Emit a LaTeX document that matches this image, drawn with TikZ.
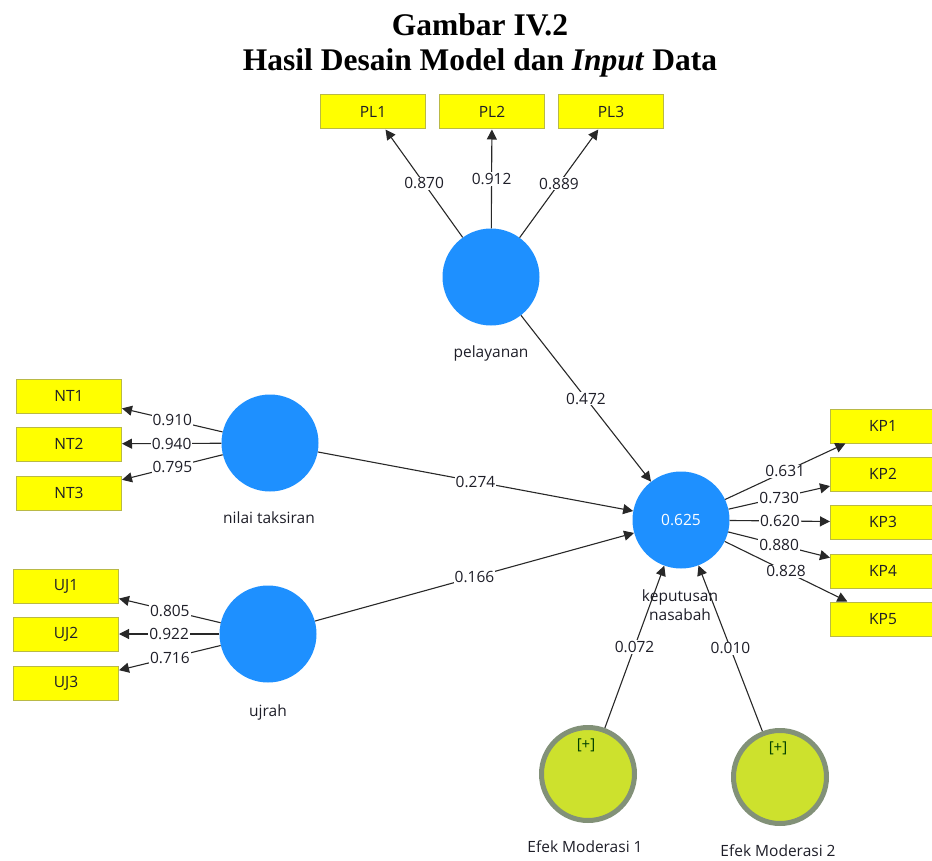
\documentclass[tikz,border=0pt]{standalone}
\usepackage{fontspec}
\setmainfont{Liberation Serif}
\newfontfamily\uifont{Open Sans}
\usetikzlibrary{arrows.meta}
\definecolor{lvblue}{RGB}{30,144,255}
\definecolor{mvyellow}{RGB}{255,255,0}
\definecolor{mvborder}{RGB}{185,185,70}
\definecolor{modfill}{RGB}{205,225,45}
\definecolor{modring}{RGB}{130,145,120}
\definecolor{edgecol}{RGB}{40,40,40}
\definecolor{txt}{RGB}{30,30,40}
\begin{document}
\begin{tikzpicture}[x=1pt,y=-1pt,
 every node/.style={font=\uifont\fontsize{15.5}{18.5}\selectfont},
 lv/.style={circle,fill=lvblue,minimum size=97pt,inner sep=0pt},
 mv/.style={rectangle,fill=mvyellow,draw=mvborder,line width=1pt,minimum width=105pt,minimum height=34pt,inner sep=0pt,text=txt},
 mod/.style={circle,fill=modfill,draw=modring,line width=5pt,minimum size=93pt,inner sep=0pt},
 link/.style={draw=edgecol,line width=1.1pt,-{Triangle[length=10pt,width=10pt]}},
 coef/.style={fill=white,inner sep=1pt,text=txt,pos=0.5},
 lbl/.style={text=txt,align=center},
 plus/.style={text=black!75!green,font=\uifont\fontsize{15}{17}\selectfont},
 title/.style={font=\fontsize{31.5}{36}\selectfont\bfseries,anchor=base}
]
\useasboundingbox (0,0) rectangle (932,861);
% titles
\node[title] (t1) at (480,36) {Gambar IV.2};
\node[title] (t2) at (480,71) {Hasil Desain Model dan \textit{Input} Data};
% latent variables
\node[lv] (PL) at (491,277) {};
\node[lv] (NT) at (270,443) {};
\node[lv] (UJ) at (268,634) {};
\node[lv,text=white] (KP) at (681,520) {0.625};
\node[mod] (M1) at (588,774) {};
\node[mod] (M2) at (780,777) {};
\node[plus] (M1p) at (586,745) {[+]};
\node[plus] (M2p) at (778,748) {[+]};
% labels
\node[lbl] (PLl) at (491,353) {pelayanan};
\node[lbl] (NTl) at (269,518) {nilai taksiran};
\node[lbl] (UJl) at (268,712) {ujrah};
\node[lbl] (KPl) at (680,605) {keputusan\\nasabah};
\node[lbl] (M1l) at (585,847) {Efek Moderasi 1};
\node[lbl] (M2l) at (778,851) {Efek Moderasi 2};
% indicators
\node[mv] (PL1) at (373,112) {PL1};
\node[mv] (PL2) at (492,112) {PL2};
\node[mv] (PL3) at (611,112) {PL3};
\node[mv] (NT1) at (69,396) {NT1};
\node[mv] (NT2) at (69,444) {NT2};
\node[mv] (NT3) at (69,493) {NT3};
\node[mv] (UJ1) at (66,586) {UJ1};
\node[mv] (UJ2) at (66,634) {UJ2};
\node[mv] (UJ3) at (66,683) {UJ3};
\node[mv] (KP1) at (883,426) {KP1};
\node[mv] (KP2) at (883,474) {KP2};
\node[mv] (KP3) at (883,522) {KP3};
\node[mv] (KP4) at (883,571) {KP4};
\node[mv] (KP5) at (883,619) {KP5};
% outer loadings
\draw[link] (PL) -- node[coef]{0.870} (PL1);
\draw[link] (PL) -- node[coef]{0.912} (PL2);
\draw[link] (PL) -- node[coef]{0.889} (PL3);
\draw[link] (NT) -- node[coef]{0.910} (NT1);
\draw[link] (NT) -- node[coef]{0.940} (NT2);
\draw[link] (NT) -- node[coef]{0.795} (NT3);
\draw[link] (UJ) -- node[coef]{0.805} (UJ1);
\draw[link] (UJ) -- node[coef]{0.922} (UJ2);
\draw[link] (UJ) -- node[coef]{0.716} (UJ3);
\draw[link] (KP) -- node[coef]{0.631} (KP1);
\draw[link] (KP) -- node[coef]{0.730} (KP2);
\draw[link] (KP) -- node[coef]{0.620} (KP3);
\draw[link] (KP) -- node[coef]{0.880} (KP4);
\draw[link] (KP) -- node[coef]{0.828} (KP5);
% structural paths
\draw[link] (PL) -- node[coef]{0.472} (KP);
\draw[link] (NT) -- node[coef]{0.274} (KP);
\draw[link] (UJ) -- node[coef]{0.166} (KP);
\draw[link] (M1) -- node[coef]{0.072} (KP);
\draw[link] (M2) -- node[coef]{0.010} (KP);
\end{tikzpicture}
\end{document}
